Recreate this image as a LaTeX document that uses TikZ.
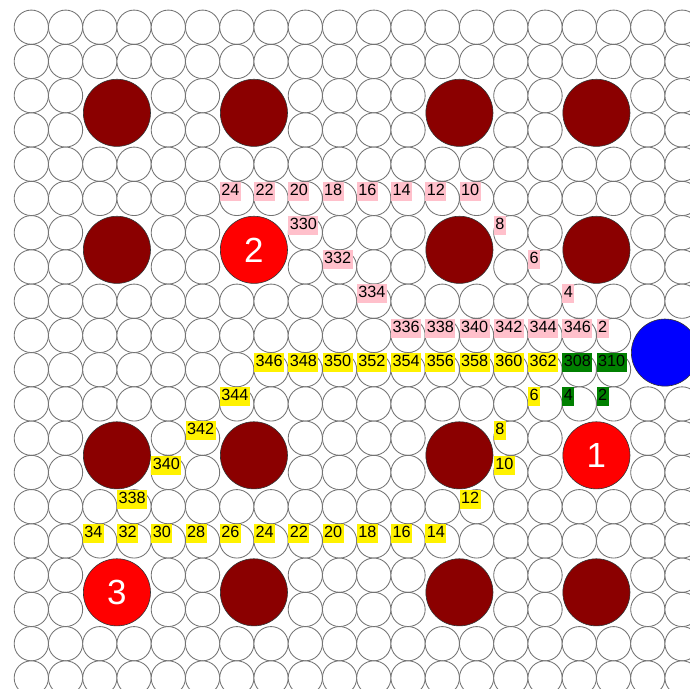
\documentclass[tikz,border=0pt]{standalone}
\usepackage{fontspec}
\setmainfont{Liberation Sans}
\definecolor{darkred}{HTML}{8B0000}
\definecolor{pinklab}{HTML}{FFC0CB}
\definecolor{greenlab}{HTML}{008000}
\tikzset{
  cell/.style={draw=black!55,fill=white,line width=0.7pt},
  big/.style={draw=black!80,line width=0.5pt},
  pin/.style={big,circle,fill=red,minimum size=1.96cm,inner sep=0pt,text=white,font=\fontsize{29}{30}\selectfont},
  lab/.style={anchor=north west,inner xsep=1.2pt,inner ysep=1.6pt,text height=9.7pt,text depth=2.9pt,font=\fontsize{13.5}{14}\selectfont},
  pk/.style={lab,fill=pinklab},
  yl/.style={lab,fill=yellow},
  gr/.style={lab,fill=greenlab}
}
\def\holes{{0,0,1,1,0,0,1,1,0,0,0,0,1,1,0,0,1,1,0,0}}

\begin{document}
\begin{tikzpicture}[x=1cm,y=-1cm]
  \useasboundingbox (-0.914,-0.794) rectangle (19.232,19.322);
  \clip (-0.914,-0.794) rectangle (19.232,19.322);
  \foreach \i in {0,...,19}
    \foreach \j in {0,...,19}{
      \pgfmathtruncatemacro\hid{\holes[\i]*\holes[\j]+(\i>17)*((\j==9)+(\j==10))}
      \ifnum\hid=0 \draw[cell] (\i,\j) circle (0.5); \fi
    }
  \foreach \c/\r in {2.5/2.5,6.5/2.5,12.5/2.5,16.5/2.5,2.5/6.5,12.5/6.5,16.5/6.5,
                     2.5/12.5,6.5/12.5,12.5/12.5,6.5/16.5,12.5/16.5,16.5/16.5}
    \filldraw[big,fill=darkred] (\c,\r) circle (0.98);
  \filldraw[big,fill=blue] (18.5,9.5) circle (0.98);
  \node[pin] (s2) at (6.5,6.5) {2};
  \node[pin] (s1) at (16.5,12.5) {1};
  \node[pin] (s3) at (2.5,16.5) {3};

  \foreach \t [count=\k from 6] in {24,22,20,18,16,14,12,10}
    \node[pk] (p\t) at ({\k-0.5},4.5) {\t};
  \foreach \c/\r/\t in {8/6/330,14/6/8,9/7/332,15/7/6,10/8/334,16/8/4}
    \node[pk] (p\t) at ({\c-0.5},{\r-0.5}) {\t};
  \foreach \t [count=\k from 11] in {336,338,340,342,344,346,2}
    \node[pk] (p\t) at ({\k-0.5},8.5) {\t};

  \foreach \t [count=\k from 7] in {346,348,350,352,354,356,358,360,362}
    \node[yl] (y\t) at ({\k-0.5},9.5) {\t};
  \foreach \c/\r/\t in {6/11/344,15/11/6,5/12/342,14/12/8,4/13/340,14/13/10,3/14/338,13/14/12}
    \node[yl] (y\t) at ({\c-0.5},{\r-0.5}) {\t};
  \foreach \t [count=\k from 2] in {34,32,30,28,26,24,22,20,18,16,14}
    \node[yl] (y\t) at ({\k-0.5},14.5) {\t};

  \foreach \c/\r/\t in {16/10/308,17/10/310,16/11/4,17/11/2}
    \node[gr] (g\t) at ({\c-0.5},{\r-0.5}) {\t};
\end{tikzpicture}
\end{document}
